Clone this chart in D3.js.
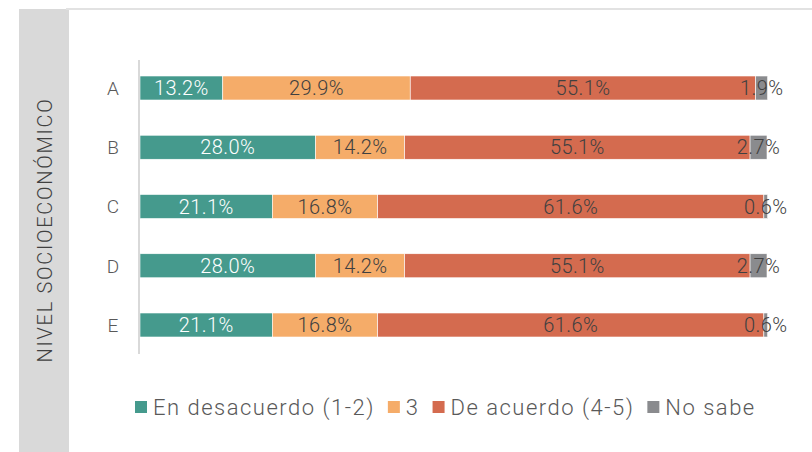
<!DOCTYPE html>
<html>
  <head>
    <meta charset="UTF-8" />
    <script src="https://d3js.org/d3.v7.min.js"></script>
    <style>
      body { margin: 0; background: #fff; }
      text { font-family: Roboto, "DejaVu Sans", sans-serif; }
    </style>
  </head>
  <body>
    <div id="my_dataviz"></div>

    <script>
      const width = 812,
        height = 452;

      const categories = ["A", "B", "C", "D", "E"];
      const seriesNames = ["En desacuerdo (1-2)", "3", "De acuerdo (4-5)", "No sabe"];
      const desacuerdo = [13.2, 28.0, 21.1, 28.0, 21.1];
      const neutral = [29.9, 14.2, 16.8, 14.2, 16.8];
      const deAcuerdo = [55.1, 55.1, 61.6, 55.1, 61.6];
      const noSabe = [1.9, 2.7, 0.6, 2.7, 0.6];
      const colors = ["#459a8d", "#f5ac69", "#d46b4f", "#8a8b8e"];

      const series = [desacuerdo, neutral, deAcuerdo, noSabe];

      var svg = d3
        .select("#my_dataviz")
        .append("svg")
        .attr("width", width)
        .attr("height", height);

      // grey side panel + top rule
      svg.append("rect")
        .attr("x", 19).attr("y", 9)
        .attr("width", 50).attr("height", height - 9)
        .attr("fill", "#d9d9d9");
      svg.append("line")
        .attr("x1", 66).attr("x2", width)
        .attr("y1", 9).attr("y2", 9)
        .attr("stroke", "#e2e2e2").attr("stroke-width", 2);

      svg.append("text")
        .attr("transform", "translate(52,230) rotate(-90)")
        .attr("text-anchor", "middle")
        .attr("font-size", 20)
        .attr("font-weight", 300)
        .attr("letter-spacing", 1.7)
        .attr("fill", "#404040")
        .text("NIVEL SOCIOECONÓMICO");

      var xScale = d3.scaleLinear().domain([0, 100]).range([140, 767]);
      var yScale = d3.scalePoint().domain(categories).range([88, 325]);
      const barH = 24;

      // stack the rows
      let rows = categories.map((c, i) => {
        let start = 0;
        return series.map((s, k) => {
          const seg = { cat: c, k: k, x0: start, x1: start + s[i], v: s[i] };
          start += s[i];
          return seg;
        });
      });

      var g = svg.append("g");
      rows.forEach((row) => {
        g.selectAll(null)
          .data(row)
          .join("rect")
          .attr("x", (d) => xScale(d.x0))
          .attr("y", (d) => yScale(d.cat) - barH / 2)
          .attr("width", (d) => xScale(d.x1) - xScale(d.x0))
          .attr("height", barH)
          .attr("fill", (d) => colors[d.k])
          .attr("stroke", "#fff")
          .attr("stroke-width", 0.6);
      });
      rows.forEach((row) => {
        g.selectAll(null)
          .data(row)
          .join("text")
          .attr("x", (d) => (xScale(d.x0) + xScale(d.x1)) / 2)
          .attr("y", (d) => yScale(d.cat))
          .attr("dy", "0.36em")
          .attr("text-anchor", "middle")
          .attr("font-size", 20)
          .attr("font-weight", 300)
          .attr("letter-spacing", 0.4)
          .attr("fill", (d) => (d.k === 0 ? "#ffffff" : "#404040"))
          .text((d) => d.v.toFixed(1) + "%");
      });

      // category axis
      svg.append("line")
        .attr("x1", 139).attr("x2", 139)
        .attr("y1", 60).attr("y2", 354)
        .attr("stroke", "#d9d9d9").attr("stroke-width", 2);
      svg.selectAll(".cat")
        .data(categories)
        .join("text")
        .attr("x", 113)
        .attr("y", (d) => yScale(d))
        .attr("dy", "0.36em")
        .attr("text-anchor", "middle")
        .attr("font-size", 19)
        .attr("font-weight", 300)
        .attr("fill", "#595959")
        .text((d) => d);

      // legend
      var lg = svg.append("g").attr("transform", "translate(135,407)");
      let lx = 0;
      seriesNames.forEach((name, k) => {
        lg.append("rect")
          .attr("x", lx).attr("y", -6)
          .attr("width", 12).attr("height", 12)
          .attr("fill", colors[k]);
        const t = lg.append("text")
          .attr("x", lx + 18)
          .attr("y", 0)
          .attr("dy", "0.36em")
          .attr("font-size", 22)
          .attr("font-weight", 300)
          .attr("letter-spacing", 1.5)
          .attr("fill", "#595959")
          .text(name);
        lx += 18 + t.node().getComputedTextLength() + 13;
      });
    </script>
  </body>
</html>
